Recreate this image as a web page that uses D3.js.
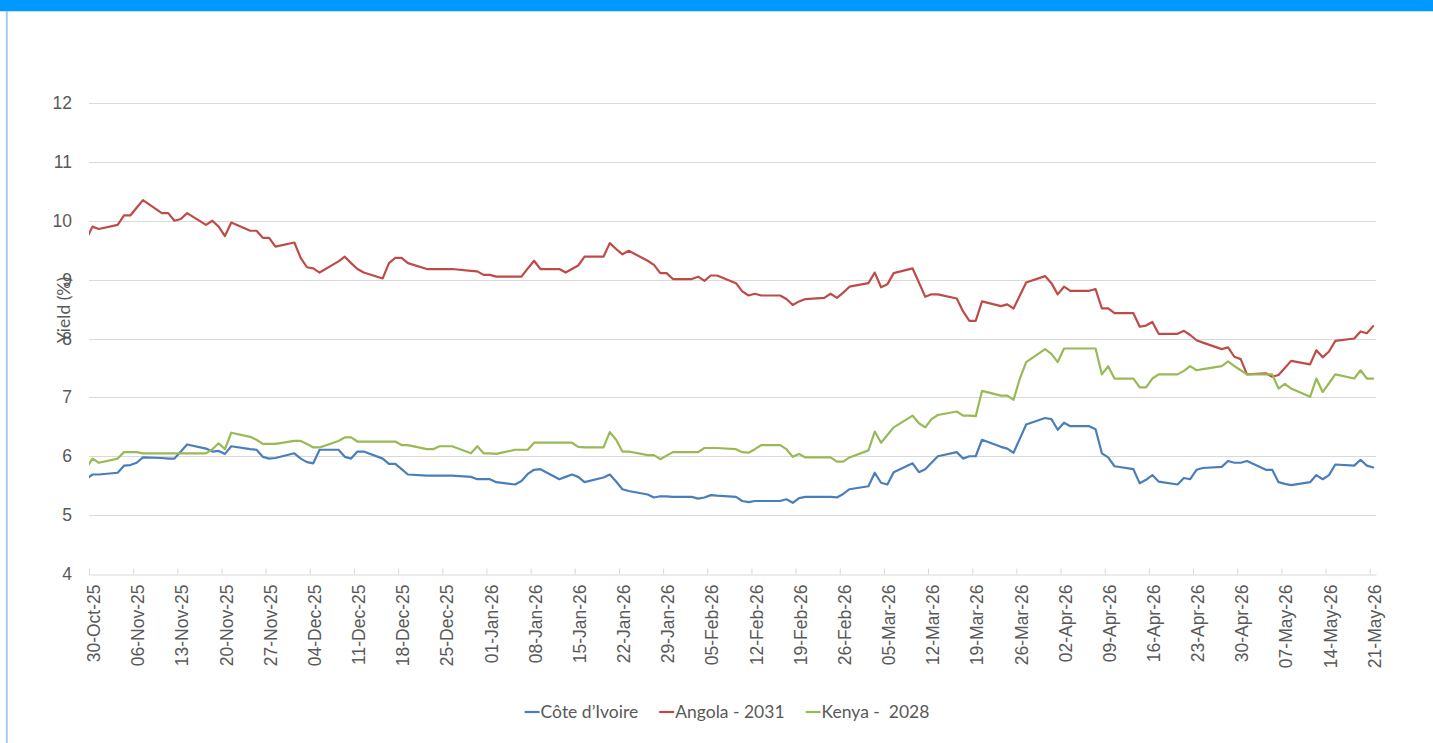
<!DOCTYPE html>
<html><head><meta charset="utf-8">
<script src="https://cdn.jsdelivr.net/npm/d3@7"></script>
<style>
html,body{margin:0;padding:0;background:#fff;}
svg{display:block;font-family:Lato,"Noto Sans",sans-serif;}
</style></head><body>
<svg id="chart" width="1433" height="743"></svg>
<script>
// ---------- DATA ----------
const dates = [
"2025-10-29","2025-10-30","2025-10-31",
"2025-11-03","2025-11-04","2025-11-05","2025-11-06","2025-11-07",
"2025-11-10","2025-11-11","2025-11-12","2025-11-13","2025-11-14",
"2025-11-17","2025-11-18","2025-11-19","2025-11-20","2025-11-21",
"2025-11-24","2025-11-25","2025-11-26","2025-11-27","2025-11-28",
"2025-12-01","2025-12-02","2025-12-03","2025-12-04","2025-12-05",
"2025-12-08","2025-12-09","2025-12-10","2025-12-11","2025-12-12",
"2025-12-15","2025-12-16","2025-12-17","2025-12-18","2025-12-19",
"2025-12-22","2025-12-23","2025-12-24","2025-12-25","2025-12-26",
"2025-12-29","2025-12-30","2025-12-31",
"2026-01-01","2026-01-02",
"2026-01-05","2026-01-06","2026-01-07","2026-01-08","2026-01-09",
"2026-01-12","2026-01-13","2026-01-14","2026-01-15","2026-01-16",
"2026-01-19","2026-01-20","2026-01-21","2026-01-22","2026-01-23",
"2026-01-26","2026-01-27","2026-01-28","2026-01-29","2026-01-30",
"2026-02-02","2026-02-03","2026-02-04","2026-02-05","2026-02-06",
"2026-02-09","2026-02-10","2026-02-11","2026-02-12","2026-02-13",
"2026-02-16","2026-02-17","2026-02-18","2026-02-19","2026-02-20",
"2026-02-23","2026-02-24","2026-02-25","2026-02-26","2026-02-27",
"2026-03-02","2026-03-03","2026-03-04","2026-03-05","2026-03-06",
"2026-03-09","2026-03-10","2026-03-11","2026-03-12","2026-03-13",
"2026-03-16","2026-03-17","2026-03-18","2026-03-19","2026-03-20",
"2026-03-23","2026-03-24","2026-03-25","2026-03-26","2026-03-27",
"2026-03-30","2026-03-31",
"2026-04-01","2026-04-02","2026-04-03",
"2026-04-06","2026-04-07","2026-04-08","2026-04-09","2026-04-10",
"2026-04-13","2026-04-14","2026-04-15","2026-04-16","2026-04-17",
"2026-04-20","2026-04-21","2026-04-22","2026-04-23","2026-04-24",
"2026-04-27","2026-04-28","2026-04-29","2026-04-30",
"2026-05-01",
"2026-05-04","2026-05-05","2026-05-06","2026-05-07","2026-05-08",
"2026-05-11","2026-05-12","2026-05-13","2026-05-14","2026-05-15",
"2026-05-18","2026-05-19","2026-05-20","2026-05-21"
];

const coteDivoire = [
5.61,5.69,5.69,
5.72,5.84,5.85,5.89,5.98,
5.97,5.96,5.96,6.08,6.20,
6.13,6.08,6.09,6.04,6.17,
6.12,6.11,5.99,5.96,5.97,
6.05,5.96,5.90,5.88,6.11,
6.11,5.99,5.96,6.08,6.08,
5.96,5.87,5.87,5.78,5.69,
5.67,5.67,5.67,5.67,5.67,
5.65,5.61,5.61,
5.61,5.56,
5.52,5.58,5.70,5.77,5.78,
5.61,5.65,5.69,5.65,5.56,
5.64,5.69,5.57,5.44,5.41,
5.35,5.30,5.32,5.32,5.31,
5.31,5.28,5.30,5.34,5.33,
5.31,5.24,5.22,5.24,5.24,
5.24,5.27,5.21,5.29,5.31,
5.31,5.31,5.30,5.36,5.44,
5.49,5.72,5.55,5.52,5.73,
5.88,5.73,5.78,5.89,6.00,
6.07,5.96,6.00,6.00,6.28,
6.16,6.13,6.06,6.30,6.54,
6.65,6.63,
6.45,6.57,6.51,
6.51,6.46,6.05,5.98,5.83,
5.78,5.54,5.60,5.68,5.57,
5.52,5.63,5.61,5.77,5.80,
5.82,5.92,5.89,5.89,
5.92,
5.77,5.77,5.56,5.53,5.51,
5.56,5.68,5.61,5.68,5.86,
5.84,5.94,5.84,5.81
];

const angola2031 = [
9.68,9.90,9.86,
9.93,10.09,10.09,10.22,10.35,
10.13,10.13,10.00,10.03,10.13,
9.93,10.00,9.90,9.74,9.97,
9.83,9.83,9.71,9.71,9.56,
9.63,9.37,9.21,9.19,9.12,
9.31,9.39,9.28,9.18,9.12,
9.02,9.28,9.37,9.37,9.28,
9.18,9.18,9.18,9.18,9.18,
9.15,9.14,9.08,
9.08,9.05,
9.05,9.05,9.19,9.32,9.18,
9.18,9.12,9.18,9.24,9.39,
9.39,9.62,9.52,9.43,9.49,
9.32,9.25,9.11,9.11,9.01,
9.01,9.05,8.98,9.07,9.07,
8.94,8.80,8.73,8.76,8.73,
8.73,8.67,8.57,8.63,8.67,
8.69,8.76,8.69,8.78,8.88,
8.94,9.12,8.87,8.92,9.11,
9.19,8.95,8.71,8.75,8.75,
8.68,8.46,8.30,8.30,8.63,
8.55,8.58,8.51,8.73,8.95,
9.06,8.94,
8.75,8.88,8.81,
8.81,8.84,8.51,8.51,8.43,
8.43,8.20,8.22,8.28,8.08,
8.08,8.13,8.06,7.97,7.93,
7.82,7.85,7.69,7.65,
7.39,
7.41,7.35,7.38,7.50,7.62,
7.56,7.80,7.68,7.78,7.96,
8.00,8.12,8.09,8.21
];

const kenya2028 = [
5.79,5.96,5.89,
5.96,6.07,6.07,6.07,6.05,
6.05,6.05,6.05,6.05,6.05,
6.05,6.12,6.22,6.12,6.40,
6.33,6.28,6.21,6.21,6.21,
6.26,6.26,6.21,6.15,6.15,
6.26,6.32,6.32,6.25,6.25,
6.25,6.25,6.25,6.19,6.19,
6.12,6.12,6.17,6.17,6.17,
6.05,6.17,6.05,
6.05,6.04,
6.11,6.11,6.11,6.23,6.23,
6.23,6.23,6.23,6.16,6.15,
6.15,6.41,6.28,6.08,6.08,
6.02,6.02,5.95,6.01,6.07,
6.07,6.07,6.14,6.14,6.14,
6.12,6.07,6.06,6.12,6.19,
6.19,6.12,5.99,6.04,5.98,
5.98,5.98,5.91,5.91,5.98,
6.10,6.42,6.23,6.36,6.49,
6.69,6.56,6.49,6.63,6.70,
6.76,6.69,6.69,6.68,7.11,
7.03,7.03,6.96,7.32,7.60,
7.82,7.74,
7.60,7.83,7.83,
7.83,7.83,7.39,7.53,7.32,
7.32,7.17,7.17,7.32,7.39,
7.39,7.45,7.53,7.46,7.48,
7.53,7.61,7.53,7.46,
7.39,
7.39,7.39,7.15,7.23,7.15,
7.01,7.32,7.09,7.24,7.39,
7.32,7.46,7.32,7.32
];

const seriesNames = ["Côte d’Ivoire", "Angola - 2031", "Kenya -  2028"];
const seriesColors = ["#4A7EBB", "#BE4B48", "#98B954"];
const yTicks = [4, 5, 6, 7, 8, 9, 10, 11, 12];
const axisStart = "2025-10-30";
const axisEnd = "2026-05-22";
const yTitle = "Yield (%)";

// ---------- CHART ----------
const W = 1433, H = 743;
const svg = d3.select("#chart");
const parse = d3.timeParse("%Y-%m-%d");
const fmt = d3.timeFormat("%d-%b-%y");

// frame
svg.append("rect").attr("x", 0).attr("y", 0).attr("width", W).attr("height", H).attr("fill", "#fff");
svg.append("rect").attr("x", 0).attr("y", 0).attr("width", W).attr("height", 11).attr("fill", "#0099FF");
svg.append("line").attr("x1", 0).attr("x2", W).attr("y1", 11.5).attr("y2", 11.5)
  .attr("stroke", "#bfe3ff").attr("stroke-width", 1);
svg.append("line").attr("x1", 6.8).attr("x2", 6.8).attr("y1", 11).attr("y2", H)
  .attr("stroke", "#A7CBEF").attr("stroke-width", 2);

const plot = {left: 89, right: 1376, top: 103, bottom: 574};

const x = d3.scaleTime()
  .domain([parse(axisStart), parse(axisEnd)])
  .range([plot.left, plot.right]);
const y = d3.scaleLinear().domain([4, 12]).range([plot.bottom, plot.top]);

// gridlines
svg.append("g").selectAll("line").data(yTicks.filter(d => d > 4)).join("line")
  .attr("x1", plot.left).attr("x2", plot.right)
  .attr("y1", d => Math.round(y(d)) + 0.5).attr("y2", d => Math.round(y(d)) + 0.5)
  .attr("stroke", "#D9D9D9").attr("stroke-width", 1);

// y axis labels
const yAxis = d3.axisLeft(y).tickValues(yTicks).tickSize(0).tickPadding(0);
const gy = svg.append("g").attr("transform", `translate(72,0)`).call(yAxis);
gy.select(".domain").remove();
gy.selectAll("text").attr("fill", "#595959").style("font-size", "17.5px").attr("x", 0);

// x axis
const thursdays = d3.timeThursday.range(parse(axisStart), parse(axisEnd));
const xAxis = d3.axisBottom(x).tickValues(thursdays).tickFormat(fmt).tickSizeInner(-6).tickSizeOuter(0);
const gx = svg.append("g").attr("transform", `translate(0,${plot.bottom + 0.5})`).call(xAxis);
gx.select(".domain").attr("stroke", "#D9D9D9").attr("stroke-width", 1);
gx.selectAll(".tick line").attr("stroke", "#D9D9D9");
gx.selectAll(".tick text")
  .attr("fill", "#595959").style("font-size", "17.5px")
  .attr("text-anchor", "end")
  .attr("transform", "translate(4.5,10) rotate(-90)")
  .attr("x", 0).attr("y", 0).attr("dy", "0.35em");

// y title
svg.append("text")
  .attr("transform", "translate(64,310) rotate(-90)")
  .attr("text-anchor", "middle").attr("dy", "0.35em")
  .attr("fill", "#595959").style("font-size", "17.5px")
  .text(yTitle);

// lines
const dayShift = 0.55 * 864e5; // points sit inside their day slot
const xd = s => x(new Date(parse(s).getTime() + dayShift));
svg.append("defs").append("clipPath").attr("id", "clip")
  .append("rect").attr("x", plot.left).attr("y", 0).attr("width", plot.right - plot.left).attr("height", H);

const series = [coteDivoire, angola2031, kenya2028];
const line = d3.line().x((d, i) => xd(dates[i])).y(d => y(d));
const gl = svg.append("g").attr("clip-path", "url(#clip)");
series.forEach((vals, k) => {
  gl.append("path").attr("d", line(vals)).attr("fill", "none")
    .attr("stroke", seriesColors[k]).attr("stroke-width", 2.2)
    .attr("stroke-linejoin", "round").attr("stroke-linecap", "round");
});

// legend
const leg = svg.append("g");
let cx = 0;
seriesNames.forEach((n, k) => {
  const g = leg.append("g");
  g.append("line").attr("x1", 0).attr("x2", 15).attr("y1", 0).attr("y2", 0)
    .attr("stroke", seriesColors[k]).attr("stroke-width", 2.2);
  const t = g.append("text").attr("x", 16).attr("dy", "0.35em")
    .attr("fill", "#595959").style("font-size", "17.5px").style("white-space", "pre").text(n);
  const w = 16 + t.node().getComputedTextLength();
  g.attr("transform", `translate(${cx},0)`);
  cx += w + 21;
});
const total = cx - 21;
leg.attr("transform", `translate(${727 - total / 2},712)`);
</script>
</body></html>
